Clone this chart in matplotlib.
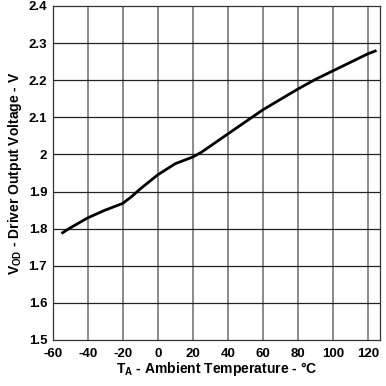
import matplotlib
matplotlib.use("Agg")
import matplotlib.pyplot as plt

temps = [-55, -50, -40, -30, -20, -15, -10, 0, 10, 20, 25, 40, 60, 80, 90, 100, 120, 125]
vod = [1.787, 1.802, 1.829, 1.850, 1.868, 1.886, 1.907, 1.945, 1.975, 1.993, 2.006,
       2.055, 2.120, 2.176, 2.202, 2.225, 2.271, 2.280]
xticks = [-60, -40, -20, 0, 20, 40, 60, 80, 100, 120]
yticks = [1.5, 1.6, 1.7, 1.8, 1.9, 2.0, 2.1, 2.2, 2.3, 2.4]
ytick_labels = ["1.5", "1.6", "1.7", "1.8", "1.9", "2", "2.1", "2.2", "2.3", "2.4"]

plt.rcParams['font.family'] = ['Liberation Sans', 'DejaVu Sans']
plt.rcParams['font.weight'] = 'bold'
plt.rcParams['axes.unicode_minus'] = False
plt.rcParams['mathtext.fontset'] = 'custom'
plt.rcParams['mathtext.rm'] = 'Liberation Sans:bold'
plt.rcParams['mathtext.it'] = 'Liberation Sans:bold'
plt.rcParams['mathtext.bf'] = 'Liberation Sans:bold'

fig = plt.figure(figsize=(3.86, 3.86), dpi=100)
ax = fig.add_axes([0.1365, 0.1192, 0.848, 0.8653])

ax.set_xlim(-60, 127)
ax.set_ylim(1.5, 2.4)
ax.set_xticks(xticks)
ax.set_yticks(yticks)
ax.set_yticklabels(ytick_labels)

for x in xticks[1:]:
    ax.axvline(x, color='#8a8a8a', lw=1.4, zorder=1)
for y in yticks[1:-1]:
    ax.axhline(y, color='#222222', lw=0.9, zorder=1)

ax.plot(temps, vod, color='black', lw=2.0, zorder=3, solid_capstyle='butt')

for s in ax.spines.values():
    s.set_color('#333333')
    s.set_linewidth(0.9)

ax.tick_params(axis='both', length=0, labelsize=9.5)
ax.tick_params(axis='x', pad=6)
ax.tick_params(axis='y', pad=4)
for lab in ax.get_xticklabels() + ax.get_yticklabels():
    lab.set_fontweight('bold')

ax.set_xlabel(r'T$_{\rm A}$ - Ambient Temperature - °C', fontsize=10, fontweight='bold', labelpad=0)
ax.set_ylabel(r'V$_{\rm OD}$ - Driver Output Voltage - V', fontsize=10, fontweight='bold', labelpad=3)

fig.savefig('out.png', dpi=100)
